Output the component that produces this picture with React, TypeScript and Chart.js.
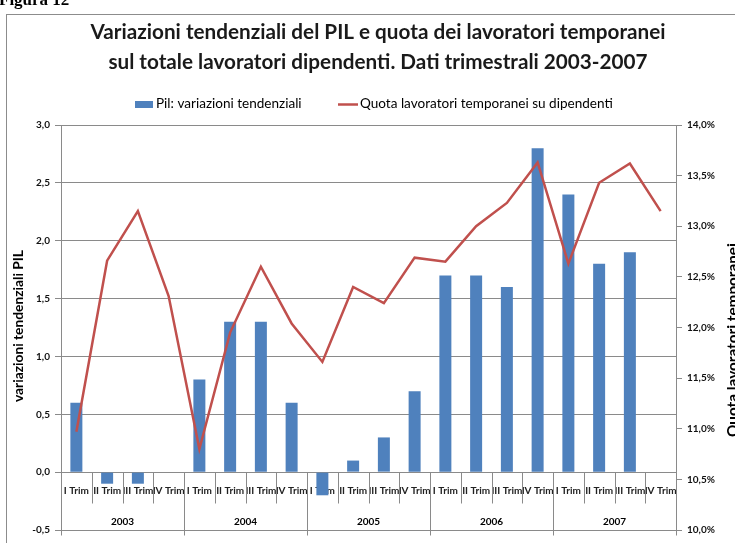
import React, { useEffect, useRef } from "react";
import { Chart, registerables } from "chart.js";

Chart.register(...registerables);

const quarterLabels = [
  "I Trim", "II Trim", "III Trim", "IV Trim",
  "I Trim", "II Trim", "III Trim", "IV Trim",
  "I Trim", "II Trim", "III Trim", "IV Trim",
  "I Trim", "II Trim", "III Trim", "IV Trim",
  "I Trim", "II Trim", "III Trim", "IV Trim",
];
const years = ["2003", "2004", "2005", "2006", "2007"];
const pilValues: (number | null)[] = [
  0.6, -0.1, -0.1, null,
  0.8, 1.3, 1.3, 0.6,
  -0.2, 0.1, 0.3, 0.7,
  1.7, 1.7, 1.6, 2.8,
  2.4, 1.8, 1.9, null,
];
const quotaValues = [
  10.97, 12.66, 13.15, 12.31,
  10.8, 11.95, 12.6, 12.04,
  11.66, 12.4, 12.24, 12.69,
  12.65, 13.0, 13.23, 13.63,
  12.63, 13.43, 13.62, 13.15,
];
const titleLines = [
  "Variazioni tendenziali del PIL e quota dei lavoratori temporanei",
  "sul totale lavoratori dipendenti. Dati trimestrali 2003-2007",
];
const pilLabel = "Pil: variazioni tendenziali";
const quotaLabel = "Quota lavoratori temporanei su dipendenti";
const leftAxisTitle = "variazioni tendenziali PIL";
const rightAxisTitle = "Quota lavoratori temporanei";
const figureLabel = "Figura 12";

const FAMILY = "Lato, 'Open Sans', sans-serif";
const GRID = "#8a8a8a";
const BLUE = "#4F81BD";
const RED = "#C0504D";

function fitFont(ctx: CanvasRenderingContext2D, text: string, weight: string, target: number) {
  ctx.font = `${weight} 20px ${FAMILY}`;
  const w = ctx.measureText(text).width;
  const size = (20 * target) / w;
  return `${weight} ${size.toFixed(2)}px ${FAMILY}`;
}

const decorPlugin = {
  id: "decor",
  beforeDraw(chart: any) {
    const ctx: CanvasRenderingContext2D = chart.ctx;
    ctx.save();
    ctx.fillStyle = "#fff";
    ctx.fillRect(0, 0, chart.width, chart.height);
    // figure label (clipped at top)
    ctx.fillStyle = "#000";
    ctx.font = "bold 17px 'Liberation Serif', serif";
    ctx.textAlign = "left";
    ctx.textBaseline = "alphabetic";
    ctx.fillText(figureLabel, -1, 5);
    // outer border
    ctx.strokeStyle = "#8c8c8c";
    ctx.lineWidth = 1;
    ctx.strokeRect(6.5, 14.5, 900, 700);
    // title
    ctx.fillStyle = "#1a1a1a";
    ctx.textAlign = "center";
    ctx.textBaseline = "middle";
    ctx.font = fitFont(ctx, titleLines[0], "bold", 575);
    ctx.fillText(titleLines[0], 378, 32);
    ctx.fillText(titleLines[1], 378, 62);
    // legend
    ctx.fillStyle = BLUE;
    ctx.fillRect(135, 101, 18, 7);
    ctx.fillStyle = "#000";
    ctx.textAlign = "left";
    ctx.font = fitFont(ctx, quotaLabel, "normal", 253);
    ctx.fillText(pilLabel, 156, 104);
    ctx.strokeStyle = RED;
    ctx.lineWidth = 2.5;
    ctx.beginPath();
    ctx.moveTo(338, 104.5);
    ctx.lineTo(358, 104.5);
    ctx.stroke();
    ctx.fillText(quotaLabel, 360, 104);
    // axis titles
    ctx.fillStyle = "#000";
    ctx.textAlign = "center";
    ctx.save();
    ctx.translate(19, 326);
    ctx.rotate(-Math.PI / 2);
    ctx.font = fitFont(ctx, leftAxisTitle, "bold", 152);
    ctx.fillText(leftAxisTitle, 0, 0);
    ctx.restore();
    ctx.save();
    ctx.translate(733, 340);
    ctx.rotate(-Math.PI / 2);
    ctx.font = fitFont(ctx, rightAxisTitle, "bold", 194);
    ctx.fillText(rightAxisTitle, 0, 0);
    ctx.restore();
    ctx.restore();
  },
  afterDraw(chart: any) {
    const ctx: CanvasRenderingContext2D = chart.ctx;
    const xs = chart.scales.x;
    const ys = chart.scales.y;
    const y0 = Math.round(ys.getPixelForValue(0)) + 0.5;
    const yBottom = Math.round(ys.getPixelForValue(-0.5)) + 5.5;
    const step = xs.getPixelForValue(1) - xs.getPixelForValue(0);
    ctx.save();
    ctx.strokeStyle = GRID;
    ctx.lineWidth = 1;
    for (let i = 0; i <= quarterLabels.length; i++) {
      const bx = Math.round(xs.getPixelForValue(0) - step / 2 + i * step) + 0.5;
      ctx.beginPath();
      ctx.moveTo(bx, y0);
      ctx.lineTo(bx, i % 4 === 0 ? yBottom : y0 + 31);
      ctx.stroke();
    }
    ctx.fillStyle = "#000";
    ctx.font = `bold 10px ${FAMILY}`;
    ctx.textAlign = "center";
    ctx.textBaseline = "middle";
    years.forEach((yr, k) => {
      const cx = (xs.getPixelForValue(k * 4) + xs.getPixelForValue(k * 4 + 3)) / 2;
      ctx.fillText(yr, cx, 522);
    });
    ctx.restore();
  },
};

export default function App() {
  const ref = useRef<HTMLCanvasElement | null>(null);
  useEffect(() => {
    if (!ref.current) return;
    const chart = new Chart(ref.current, {
      type: "bar",
      data: {
        labels: quarterLabels,
        datasets: [
          {
            type: "line",
            label: quotaLabel,
            data: quotaValues,
            yAxisID: "y1",
            borderColor: RED,
            backgroundColor: RED,
            borderWidth: 2.5,
            pointRadius: 0,
            tension: 0,
            order: 0,
          } as any,
          {
            type: "bar",
            label: pilLabel,
            data: pilValues,
            yAxisID: "y",
            backgroundColor: BLUE,
            borderWidth: 0,
            categoryPercentage: 1,
            barPercentage: 0.39,
            order: 1,
          },
        ],
      },
      options: {
        responsive: false,
        animation: false,
        layout: { padding: { top: 125, bottom: 13, left: 0, right: 0 } },
        plugins: {
          legend: { display: false },
          title: { display: false },
          tooltip: { enabled: false },
        },
        scales: {
          x: {
            type: "category",
            position: { y: 0 } as any,
            offset: true,
            grid: { display: false, drawTicks: false },
            border: { display: false },
            ticks: {
              autoSkip: false,
              maxRotation: 0,
              minRotation: 0,
              padding: 13,
              color: "#222",
              font: { family: FAMILY, size: 10, weight: "bold" },
            },
          },
          y: {
            position: "left",
            min: -0.5,
            max: 3,
            afterFit: (s: any) => { s.width = 61; },
            grid: { color: GRID, tickLength: 6, drawTicks: true },
            border: { display: true, color: GRID },
            ticks: {
              stepSize: 0.5,
              padding: 5,
              color: "#111",
              font: { family: FAMILY, size: 10, weight: "bold" },
              callback: (v: any) => Number(v).toFixed(1).replace(".", ","),
            },
          },
          y1: {
            position: "right",
            min: 10,
            max: 14,
            afterFit: (s: any) => { s.width = 59; },
            grid: { drawOnChartArea: false, color: GRID, tickLength: 6, drawTicks: true },
            border: { display: true, color: GRID },
            ticks: {
              stepSize: 0.5,
              padding: 5,
              color: "#111",
              font: { family: FAMILY, size: 10, weight: "bold" },
              callback: (v: any) => Number(v).toFixed(1).replace(".", ",") + "%",
            },
          },
        },
      },
      plugins: [decorPlugin],
    });
    return () => chart.destroy();
  }, []);
  return (
    <div style={{ position: "absolute", left: 0, top: 0, width: 735, height: 543, background: "#fff" }}>
      <canvas ref={ref} width={735} height={543} style={{ display: "block" }} />
    </div>
  );
}
